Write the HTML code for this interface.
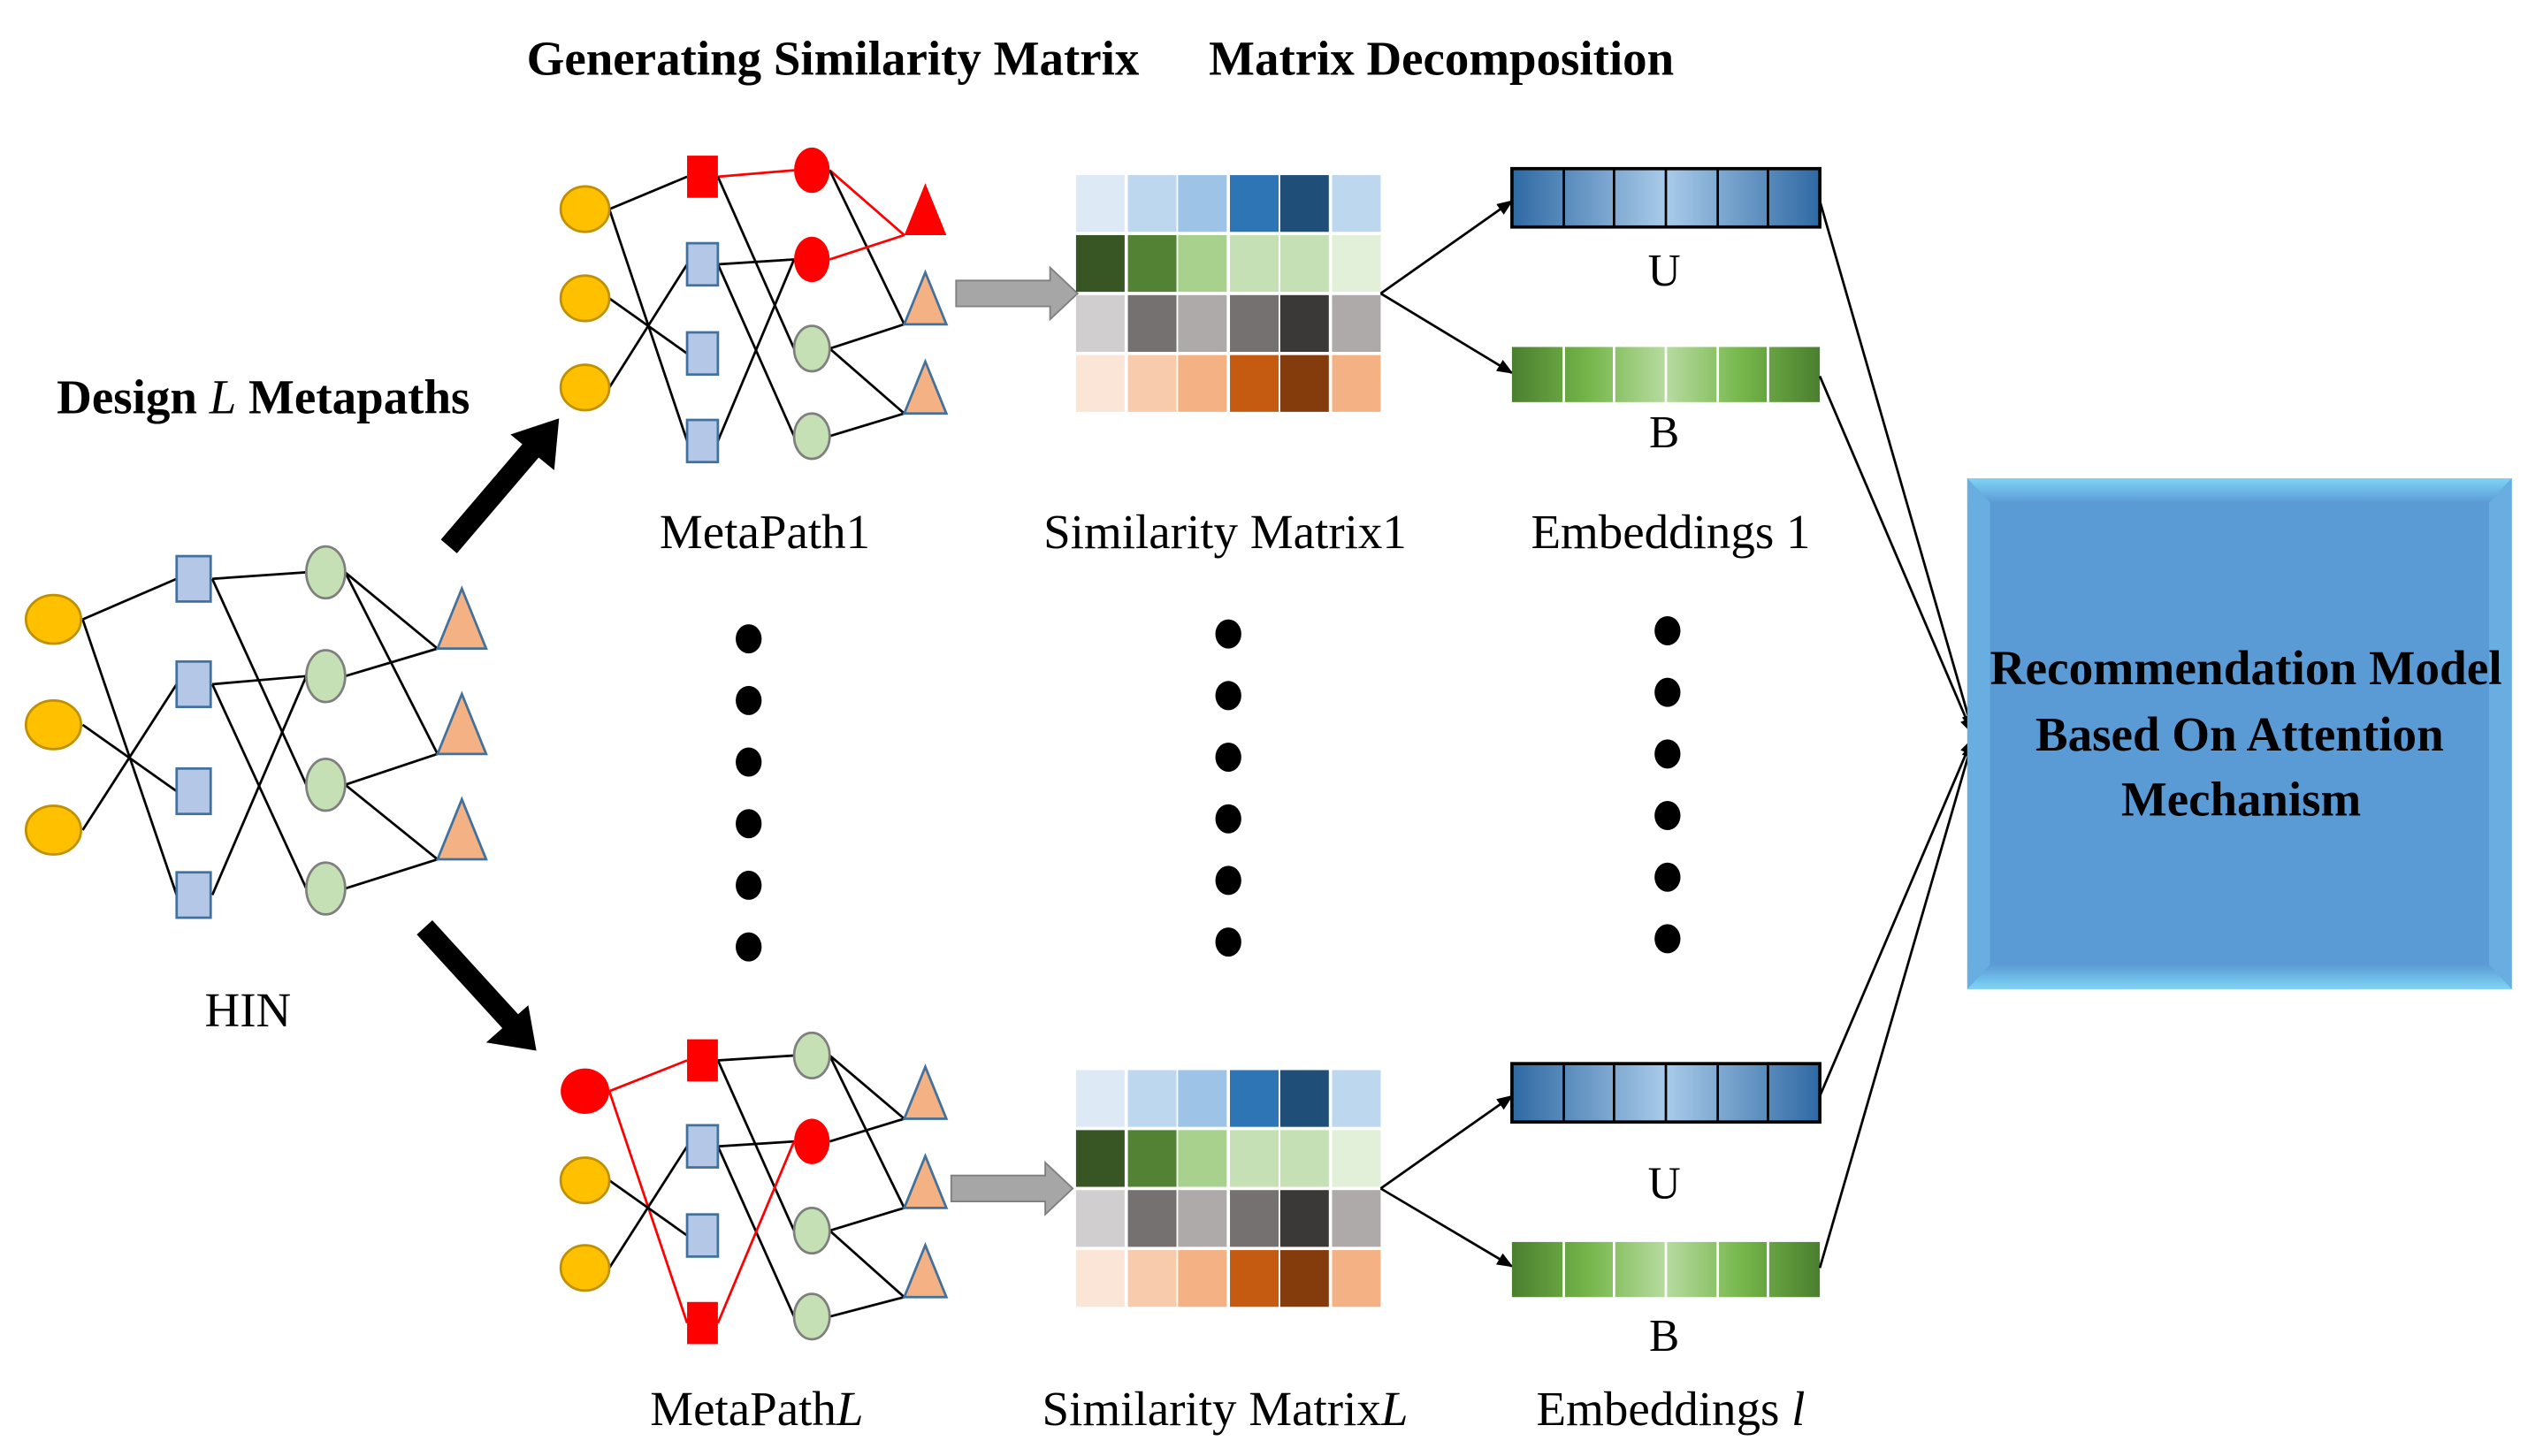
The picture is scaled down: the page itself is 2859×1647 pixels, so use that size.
<!DOCTYPE html>
<html><head><meta charset="utf-8"><style>
html,body{margin:0;padding:0;background:#fff}
svg{display:block}
text{font-family:"Liberation Serif",serif}
</style></head><body>
<svg width="2859" height="1647" viewBox="0 0 1560 898" preserveAspectRatio="none" xmlns="http://www.w3.org/2000/svg">
<defs>
<marker id="ah" markerWidth="10" markerHeight="8" refX="9" refY="4" orient="auto" markerUnits="userSpaceOnUse"><path d="M0,0 L10,4 L0,8 z" fill="#000"/></marker>
<linearGradient id="gb" x1="0" x2="1"><stop offset="0" stop-color="#2e69a3"/><stop offset="0.5" stop-color="#a9cbea"/><stop offset="1" stop-color="#2e69a3"/></linearGradient>
<linearGradient id="gg" x1="0" x2="1"><stop offset="0" stop-color="#4b7f2f"/><stop offset="0.25" stop-color="#75b64a"/><stop offset="0.5" stop-color="#b7dba0"/><stop offset="0.75" stop-color="#75b64a"/><stop offset="1" stop-color="#4b7f2f"/></linearGradient>
<linearGradient id="edgeT" x1="0" y1="0" x2="0" y2="1"><stop offset="0" stop-color="#7fd4f5"/><stop offset="1" stop-color="#5b9bd5"/></linearGradient>
<linearGradient id="edgeB" x1="0" y1="1" x2="0" y2="0"><stop offset="0" stop-color="#7fd4f5"/><stop offset="1" stop-color="#5b9bd5"/></linearGradient>
</defs>

<!-- Titles -->
<text x="325" y="46" font-size="30" font-weight="bold" textLength="378" lengthAdjust="spacingAndGlyphs">Generating Similarity Matrix</text>
<text x="746" y="46" font-size="30" font-weight="bold" textLength="287" lengthAdjust="spacingAndGlyphs">Matrix Decomposition</text>
<text x="35" y="255" font-size="30" font-weight="bold" textLength="255" lengthAdjust="spacingAndGlyphs">Design <tspan font-style="italic" font-weight="normal">L</tspan> Metapaths</text>

<!-- HIN edges -->
<g stroke="#000" stroke-width="1.5" fill="none">
<line x1="51" y1="382" x2="109" y2="357"/><line x1="51" y1="382" x2="109" y2="552"/>
<line x1="51" y1="447" x2="109" y2="488"/><line x1="51" y1="512" x2="109" y2="422"/>
<line x1="131" y1="357" x2="189" y2="353"/><line x1="131" y1="357" x2="189" y2="484"/>
<line x1="131" y1="422" x2="189" y2="417"/><line x1="131" y1="422" x2="189" y2="548"/>
<line x1="131" y1="552" x2="189" y2="417"/>
<line x1="213" y1="353" x2="270" y2="400"/><line x1="213" y1="353" x2="270" y2="465"/>
<line x1="213" y1="417" x2="270" y2="400"/><line x1="213" y1="484" x2="270" y2="465"/>
<line x1="213" y1="484" x2="270" y2="530"/><line x1="213" y1="548" x2="270" y2="530"/>
</g>
<g fill="#ffc000" stroke="#bf9000" stroke-width="1.5">
<ellipse cx="33" cy="382" rx="17" ry="15"/><ellipse cx="33" cy="447" rx="17" ry="15"/><ellipse cx="33" cy="512" rx="17" ry="15"/>
</g>
<g fill="#b4c7e7" stroke="#41719c" stroke-width="1.5">
<rect x="109" y="343" width="21" height="28"/><rect x="109" y="408" width="21" height="28"/><rect x="109" y="474" width="21" height="28"/><rect x="109" y="538" width="21" height="28"/>
</g>
<g fill="#c5e0b4" stroke="#7f7f7f" stroke-width="1.5">
<ellipse cx="201" cy="353" rx="12" ry="16"/><ellipse cx="201" cy="417" rx="12" ry="16"/><ellipse cx="201" cy="484" rx="12" ry="16"/><ellipse cx="201" cy="548" rx="12" ry="16"/>
</g>
<g fill="#f4b183" stroke="#41719c" stroke-width="1.5">
<path d="M285,363 L300,400 L270,400 z"/><path d="M285,428 L300,465 L270,465 z"/><path d="M285,493 L300,530 L270,530 z"/>
</g>
<text x="153" y="633" font-size="30" text-anchor="middle">HIN</text>

<!-- Big arrows -->
<line x1="277" y1="337" x2="330" y2="275" stroke="#000" stroke-width="13"/>
<path d="M345,258 L342,290 L315,268 z" fill="#000"/>
<line x1="262" y1="572" x2="315" y2="630" stroke="#000" stroke-width="13"/>
<path d="M331,648 L300,643 L326,620 z" fill="#000"/>

<!-- MetaPath1 -->
<g stroke-width="1.5" fill="none">
<line x1="376" y1="129" x2="424" y2="109" stroke="#000"/><line x1="376" y1="129" x2="424" y2="272" stroke="#000"/>
<line x1="376" y1="184" x2="424" y2="218" stroke="#000"/><line x1="376" y1="239" x2="424" y2="163" stroke="#000"/>
<line x1="443" y1="109" x2="490" y2="105" stroke="#f00"/><line x1="443" y1="109" x2="490" y2="215" stroke="#000"/>
<line x1="443" y1="163" x2="490" y2="160" stroke="#000"/><line x1="443" y1="163" x2="490" y2="269" stroke="#000"/>
<line x1="443" y1="272" x2="490" y2="160" stroke="#000"/>
<line x1="512" y1="105" x2="558" y2="145" stroke="#f00"/><line x1="512" y1="105" x2="558" y2="200" stroke="#000"/>
<line x1="512" y1="160" x2="558" y2="145" stroke="#f00"/><line x1="512" y1="215" x2="558" y2="200" stroke="#000"/>
<line x1="512" y1="215" x2="558" y2="255" stroke="#000"/><line x1="512" y1="269" x2="558" y2="255" stroke="#000"/>
</g>
<g fill="#ffc000" stroke="#bf9000" stroke-width="1.5">
<ellipse cx="361" cy="129" rx="15" ry="14"/><ellipse cx="361" cy="184" rx="15" ry="14"/><ellipse cx="361" cy="239" rx="15" ry="14"/>
</g>
<rect x="424" y="96" width="19" height="26" fill="#f00"/>
<g fill="#b4c7e7" stroke="#41719c" stroke-width="1.5">
<rect x="424" y="150" width="19" height="26"/><rect x="424" y="205" width="19" height="26"/><rect x="424" y="259" width="19" height="26"/>
</g>
<ellipse cx="501" cy="105" rx="11" ry="14" fill="#f00"/><ellipse cx="501" cy="160" rx="11" ry="14" fill="#f00"/>
<g fill="#c5e0b4" stroke="#7f7f7f" stroke-width="1.5"><ellipse cx="501" cy="215" rx="11" ry="14"/><ellipse cx="501" cy="269" rx="11" ry="14"/></g>
<path d="M571,113 L584,145 L558,145 z" fill="#f00"/>
<g fill="#f4b183" stroke="#41719c" stroke-width="1.5"><path d="M571,168 L584,200 L558,200 z"/><path d="M571,223 L584,255 L558,255 z"/></g>
<text x="472" y="338" font-size="30" text-anchor="middle">MetaPath1</text>

<!-- MetaPathL -->
<g stroke-width="1.5" fill="none">
<line x1="376" y1="673" x2="424" y2="654" stroke="#f00"/><line x1="376" y1="673" x2="424" y2="816" stroke="#f00"/>
<line x1="376" y1="728" x2="424" y2="762" stroke="#000"/><line x1="376" y1="782" x2="424" y2="707" stroke="#000"/>
<line x1="443" y1="654" x2="490" y2="651" stroke="#000"/><line x1="443" y1="654" x2="490" y2="759" stroke="#000"/>
<line x1="443" y1="707" x2="490" y2="704" stroke="#000"/><line x1="443" y1="707" x2="490" y2="812" stroke="#000"/>
<line x1="443" y1="816" x2="490" y2="704" stroke="#f00"/>
<line x1="512" y1="651" x2="558" y2="690" stroke="#000"/><line x1="512" y1="651" x2="558" y2="745" stroke="#000"/>
<line x1="512" y1="704" x2="558" y2="690" stroke="#000"/><line x1="512" y1="759" x2="558" y2="745" stroke="#000"/>
<line x1="512" y1="759" x2="558" y2="800" stroke="#000"/><line x1="512" y1="812" x2="558" y2="800" stroke="#000"/>
</g>
<ellipse cx="361" cy="673" rx="15" ry="14" fill="#f00"/>
<g fill="#ffc000" stroke="#bf9000" stroke-width="1.5"><ellipse cx="361" cy="728" rx="15" ry="14"/><ellipse cx="361" cy="782" rx="15" ry="14"/></g>
<rect x="424" y="641" width="19" height="26" fill="#f00"/><rect x="424" y="803" width="19" height="26" fill="#f00"/>
<g fill="#b4c7e7" stroke="#41719c" stroke-width="1.5"><rect x="424" y="694" width="19" height="26"/><rect x="424" y="749" width="19" height="26"/></g>
<ellipse cx="501" cy="704" rx="11" ry="14" fill="#f00"/>
<g fill="#c5e0b4" stroke="#7f7f7f" stroke-width="1.5"><ellipse cx="501" cy="651" rx="11" ry="14"/><ellipse cx="501" cy="759" rx="11" ry="14"/><ellipse cx="501" cy="812" rx="11" ry="14"/></g>
<g fill="#f4b183" stroke="#41719c" stroke-width="1.5"><path d="M571,658 L584,690 L558,690 z"/><path d="M571,713 L584,745 L558,745 z"/><path d="M571,768 L584,800 L558,800 z"/></g>
<text x="467" y="879" font-size="30" text-anchor="middle">MetaPath<tspan font-style="italic">L</tspan></text>

<!-- gray arrows -->
<path d="M590,173 L648,173 L648,165 L665,181 L648,197 L648,189 L590,189 z" fill="#a6a6a6" stroke="#7f7f7f" stroke-width="1"/>
<path d="M587,725 L645,725 L645,717 L662,733 L645,749 L645,741 L587,741 z" fill="#a6a6a6" stroke="#7f7f7f" stroke-width="1"/>

<!-- matrices -->
<g id="m1" transform="translate(664,108)">
<rect x="0" y="0" width="30" height="35" fill="#dde9f5"/><rect x="32" y="0" width="30" height="35" fill="#bdd7ee"/><rect x="63" y="0" width="30" height="35" fill="#9dc3e6"/><rect x="95" y="0" width="30" height="35" fill="#2e75b6"/><rect x="126" y="0" width="30" height="35" fill="#1f4e79"/><rect x="158" y="0" width="30" height="35" fill="#bdd7ee"/>
<rect x="0" y="37" width="30" height="35" fill="#375623"/><rect x="32" y="37" width="30" height="35" fill="#548235"/><rect x="63" y="37" width="30" height="35" fill="#a9d18e"/><rect x="95" y="37" width="30" height="35" fill="#c5e0b4"/><rect x="126" y="37" width="30" height="35" fill="#c5e0b4"/><rect x="158" y="37" width="30" height="35" fill="#e2f0d9"/>
<rect x="0" y="74" width="30" height="35" fill="#d0cece"/><rect x="32" y="74" width="30" height="35" fill="#767171"/><rect x="63" y="74" width="30" height="35" fill="#aeaaaa"/><rect x="95" y="74" width="30" height="35" fill="#767171"/><rect x="126" y="74" width="30" height="35" fill="#3b3838"/><rect x="158" y="74" width="30" height="35" fill="#aeaaaa"/>
<rect x="0" y="111" width="30" height="35" fill="#fbe5d6"/><rect x="32" y="111" width="30" height="35" fill="#f8cbad"/><rect x="63" y="111" width="30" height="35" fill="#f4b183"/><rect x="95" y="111" width="30" height="35" fill="#c55a11"/><rect x="126" y="111" width="30" height="35" fill="#843c0c"/><rect x="158" y="111" width="30" height="35" fill="#f4b183"/>
</g>
<use href="#m1" transform="translate(0,552)"/>
<text x="756" y="338" font-size="30" text-anchor="middle">Similarity Matrix1</text>
<text x="756" y="879" font-size="30" text-anchor="middle">Similarity Matrix<tspan font-style="italic">L</tspan></text>

<!-- decomposition arrows -->
<g stroke="#000" stroke-width="1.5" fill="none" marker-end="url(#ah)">
<line x1="852" y1="181" x2="933" y2="124"/><line x1="852" y1="181" x2="933" y2="230"/>
<line x1="852" y1="733" x2="933" y2="676"/><line x1="852" y1="733" x2="933" y2="781"/>
</g>

<!-- embeddings -->
<g id="emb">
<rect x="933" y="104" width="190" height="36" fill="url(#gb)" stroke="#000" stroke-width="2"/>
<g stroke="#000" stroke-width="1.5"><line x1="965" y1="104" x2="965" y2="140"/><line x1="996" y1="104" x2="996" y2="140"/><line x1="1028" y1="104" x2="1028" y2="140"/><line x1="1060" y1="104" x2="1060" y2="140"/><line x1="1091" y1="104" x2="1091" y2="140"/></g>
<rect x="933" y="214" width="190" height="34" fill="url(#gg)"/>
<g stroke="#fff" stroke-width="1.5"><line x1="965" y1="214" x2="965" y2="248"/><line x1="996" y1="214" x2="996" y2="248"/><line x1="1028" y1="214" x2="1028" y2="248"/><line x1="1060" y1="214" x2="1060" y2="248"/><line x1="1091" y1="214" x2="1091" y2="248"/></g>
</g>
<use href="#emb" transform="translate(0,552)"/>
<text x="1027" y="176" font-size="28" text-anchor="middle">U</text>
<text x="1027" y="276" font-size="28" text-anchor="middle">B</text>
<text x="1027" y="739" font-size="28" text-anchor="middle">U</text>
<text x="1027" y="833" font-size="28" text-anchor="middle">B</text>
<text x="1031" y="338" font-size="30" text-anchor="middle">Embeddings 1</text>
<text x="1031" y="879" font-size="30" text-anchor="middle">Embeddings <tspan font-style="italic">l</tspan></text>

<!-- dots -->
<g fill="#000">
<ellipse cx="462" cy="394" rx="8" ry="9"/><ellipse cx="462" cy="432" rx="8" ry="9"/><ellipse cx="462" cy="470" rx="8" ry="9"/><ellipse cx="462" cy="508" rx="8" ry="9"/><ellipse cx="462" cy="546" rx="8" ry="9"/><ellipse cx="462" cy="584" rx="8" ry="9"/>
<ellipse cx="758" cy="391" rx="8" ry="9"/><ellipse cx="758" cy="429" rx="8" ry="9"/><ellipse cx="758" cy="467" rx="8" ry="9"/><ellipse cx="758" cy="505" rx="8" ry="9"/><ellipse cx="758" cy="543" rx="8" ry="9"/><ellipse cx="758" cy="581" rx="8" ry="9"/>
<ellipse cx="1029" cy="389" rx="8" ry="9"/><ellipse cx="1029" cy="427" rx="8" ry="9"/><ellipse cx="1029" cy="465" rx="8" ry="9"/><ellipse cx="1029" cy="503" rx="8" ry="9"/><ellipse cx="1029" cy="541" rx="8" ry="9"/><ellipse cx="1029" cy="579" rx="8" ry="9"/>
</g>

<!-- lines to model -->
<g stroke="#000" stroke-width="1.5" fill="none" marker-end="url(#ah)">
<line x1="1123" y1="124" x2="1217" y2="450"/><line x1="1123" y1="232" x2="1217" y2="452"/>
<line x1="1123" y1="676" x2="1217" y2="456"/><line x1="1123" y1="782" x2="1217" y2="458"/>
</g>

<!-- model box -->
<rect x="1214" y="295" width="336" height="315" fill="#5b9bd5"/>
<path d="M1214,295 L1550,295 L1536,310 L1228,310 z" fill="url(#edgeT)"/>
<path d="M1214,610 L1550,610 L1536,595 L1228,595 z" fill="url(#edgeB)"/>
<path d="M1214,295 L1228,310 L1228,595 L1214,610 z" fill="#69aee0"/>
<path d="M1550,295 L1536,310 L1536,595 L1550,610 z" fill="#69aee0"/>
<text x="1386" y="422" font-size="30" font-weight="bold" text-anchor="middle" textLength="316" lengthAdjust="spacingAndGlyphs">Recommendation Model</text>
<text x="1382" y="463" font-size="30" font-weight="bold" text-anchor="middle" textLength="252" lengthAdjust="spacingAndGlyphs">Based On Attention</text>
<text x="1383" y="503" font-size="30" font-weight="bold" text-anchor="middle" textLength="148" lengthAdjust="spacingAndGlyphs">Mechanism</text>
</svg>
</body></html>
